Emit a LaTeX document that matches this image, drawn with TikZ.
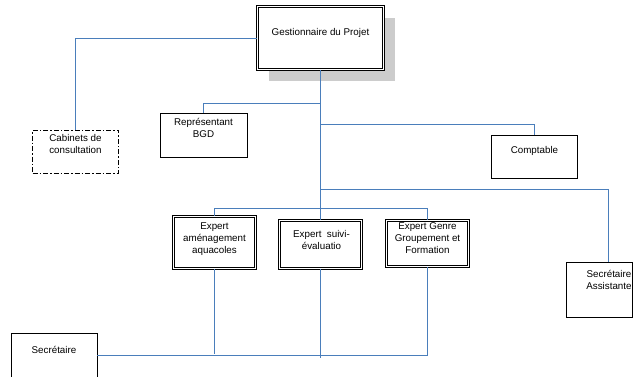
\documentclass[tikz,border=0pt]{standalone}
\usepackage{fontspec}
\setmainfont{Liberation Sans}
\usetikzlibrary{positioning,shadows}
\definecolor{linkblue}{RGB}{74,126,187}
\tikzset{
  box/.style={draw, line width=0.8pt, fill=white, inner sep=0pt},
  dbox/.style={box, double, double distance=1.1pt, line width=0.8pt},
  txt/.style={align=center, inner sep=0pt, font=\fontsize{9.8}{12}\selectfont},
  link/.style={draw=linkblue, line width=1pt}
}
\begin{document}
\begin{tikzpicture}[x=1pt,y=-1pt]
  \useasboundingbox (0,0) rectangle (642,376);
  % boxes
  \node[dbox, minimum width=126pt, minimum height=63pt,
    drop shadow={shadow xshift=11pt, shadow yshift=-11pt, fill=gray!40, opacity=1}]
    (gest) at (320.5,38) {};
  \node[box, dash pattern=on 5pt off 2pt on 1.5pt off 2pt, minimum width=86pt, minimum height=43pt] (cab) at (75.5,151.5) {};
  \node[box, minimum width=87pt, minimum height=44pt] (rep) at (203.5,135) {};
  \node[box, minimum width=86pt, minimum height=43pt] (comp) at (534.5,156.5) {};
  \node[dbox, minimum width=82pt, minimum height=52pt] (amen) at (214.5,242.5) {};
  \node[dbox, minimum width=82pt, minimum height=48pt] (suivi) at (320.5,244.5) {};
  \node[dbox, minimum width=82pt, minimum height=46pt] (genre) at (427.5,243.5) {};
  \node[box, minimum width=66pt, minimum height=55pt] (secass) at (599,289.5) {};
  \node[box, minimum width=86pt, minimum height=44pt] (sec) at (54,355.5) {};
  % texts
  \node[txt, below=22pt of gest.north] (gest-t) {Gestionnaire du Projet};
  \node[txt, below=5pt of cab.north] (cab-t) {Cabinets de\\consultation};
  \node[txt, below=5pt of rep.north] (rep-t) {Représentant\\BGD};
  \node[txt, below=12pt of comp.north] (comp-t) {Comptable};
  \node[txt, below=6pt of amen.north] (amen-t) {Expert\\aménagement\\aquacoles};
  \node[txt, below=10pt of suivi.north, xshift=1pt] (suivi-t) {Expert~ suivi-\\évaluatio};
  \node[txt, below=2pt of genre.north] (genre-t) {Expert Genre\\Groupement et\\Formation};
  \node[txt, below=8pt of secass.north, xshift=10pt] (secass-t) {Secrétaire\\Assistante};
  \node[txt, below=13pt of sec.north] (sec-t) {Secrétaire};
  % junctions on the trunk
  \coordinate (jrep) at (gest.south |- 0,103.5);
  \coordinate (jcomp) at (gest.south |- 0,124.5);
  \coordinate (jsec) at (gest.south |- 0,189.5);
  \coordinate (jexp) at (gest.south |- 0,208.5);
  \coordinate (secass-in) at (secass.north -| 608.5,0);
  % connectors
  \draw[link] (gest.west) -| (cab.north);
  \draw[link] (gest.south) -- (suivi.north);
  \draw[link] (jrep) -| (rep.north);
  \draw[link] (jcomp) -| (comp.north);
  \draw[link] (jsec) -| (secass-in);
  \draw[link] (amen.north) |- (jexp) -| (genre.north);
  \draw[link] (sec.east) -| (genre.south);
  \draw[link, shorten >=2pt] (amen.south) -- (amen.south |- sec.east);
  \draw[link, shorten >=-2pt] (suivi.south) -- (suivi.south |- sec.east);
\end{tikzpicture}
\end{document}
